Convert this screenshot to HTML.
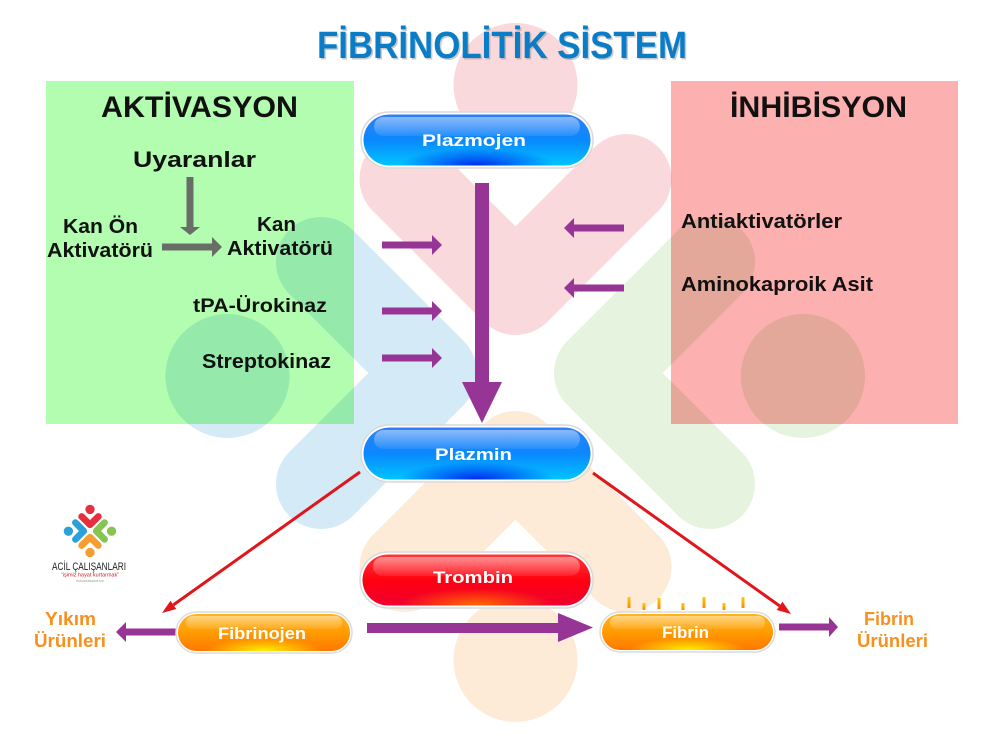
<!DOCTYPE html>
<html>
<head>
<meta charset="utf-8">
<style>
html,body{margin:0;padding:0;background:#fff;}
svg{display:block;}
text{font-family:"Liberation Sans", sans-serif;font-weight:bold;}
</style>
</head>
<body>
<svg width="1000" height="754" viewBox="0 0 1000 754" xmlns="http://www.w3.org/2000/svg">
<defs>
  <linearGradient id="gBlue" x1="0" y1="0" x2="0" y2="1">
    <stop offset="0" stop-color="#2f80f6"/>
    <stop offset="0.5" stop-color="#0a88ff"/>
    <stop offset="1" stop-color="#00c4ff"/>
  </linearGradient>
  <radialGradient id="glowBlue" cx="0.5" cy="1" r="0.34">
    <stop offset="0" stop-color="#0028ee" stop-opacity="1"/>
    <stop offset="1" stop-color="#0028ee" stop-opacity="0"/>
  </radialGradient>
  <linearGradient id="gRed" x1="0" y1="0" x2="0" y2="1">
    <stop offset="0" stop-color="#ff3838"/>
    <stop offset="0.5" stop-color="#ff0010"/>
    <stop offset="1" stop-color="#f00030"/>
  </linearGradient>
  <radialGradient id="glowRed" cx="0.5" cy="1" r="0.34">
    <stop offset="0" stop-color="#ff6a00" stop-opacity="1"/>
    <stop offset="1" stop-color="#ff6a00" stop-opacity="0"/>
  </radialGradient>
  <linearGradient id="gOr" x1="0" y1="0" x2="0" y2="1">
    <stop offset="0" stop-color="#ffb520"/>
    <stop offset="0.5" stop-color="#ff9c00"/>
    <stop offset="1" stop-color="#ff7800"/>
  </linearGradient>
  <radialGradient id="glowOr" cx="0.5" cy="1" r="0.34">
    <stop offset="0" stop-color="#fff200" stop-opacity="1"/>
    <stop offset="1" stop-color="#fff200" stop-opacity="0"/>
  </radialGradient>
  <linearGradient id="hl" x1="0" y1="0" x2="0" y2="1">
    <stop offset="0" stop-color="#ffffff" stop-opacity="0.45"/>
    <stop offset="1" stop-color="#ffffff" stop-opacity="0.08"/>
  </linearGradient>
  <linearGradient id="tick" x1="0" y1="0" x2="0" y2="1">
    <stop offset="0" stop-color="#ffcc00"/>
    <stop offset="1" stop-color="#ff8a00"/>
  </linearGradient>
</defs>

<rect x="0" y="0" width="1000" height="754" fill="#ffffff"/>

<!-- boxes -->
<rect x="46" y="81" width="308" height="343" fill="#b3fdb0"/>
<rect x="671" y="81" width="287" height="343" fill="#fcb0b0"/>

<!-- watermark -->
<g style="mix-blend-mode:multiply">
  <circle cx="515.5" cy="85" r="62" fill="#fad9dc"/>
  <polyline points="404.5,179 515.5,290 626.5,179" fill="none" stroke="#fad9dc" stroke-width="90" stroke-linecap="round" stroke-linejoin="round"/>
  <circle cx="227.5" cy="376" r="62" fill="#d4ebf7"/>
  <polyline points="321,262 432,373 321,484" fill="none" stroke="#d4ebf7" stroke-width="90" stroke-linecap="round" stroke-linejoin="round"/>
  <circle cx="803" cy="376" r="62" fill="#e6f3de"/>
  <polyline points="710,262 599,373 710,484" fill="none" stroke="#e6f3de" stroke-width="90" stroke-linecap="round" stroke-linejoin="round"/>
  <circle cx="515.5" cy="660" r="62" fill="#fdebd8"/>
  <polyline points="404.5,567 515.5,456 626.5,567" fill="none" stroke="#fdebd8" stroke-width="90" stroke-linecap="round" stroke-linejoin="round"/>
</g>

<!-- title -->
<text x="318.5" y="59.5" font-size="38" fill="#8a8a8a" fill-opacity="0.45" textLength="370" lengthAdjust="spacingAndGlyphs">FİBRİNOLİTİK SİSTEM</text>
<text x="317" y="58" font-size="38" fill="#0b7dc7" textLength="370" lengthAdjust="spacingAndGlyphs">FİBRİNOLİTİK SİSTEM</text>

<!-- box headings -->
<text x="101" y="117" font-size="30" fill="#111" textLength="197" lengthAdjust="spacingAndGlyphs">AKTİVASYON</text>
<text x="730" y="117" font-size="30" fill="#111" textLength="177" lengthAdjust="spacingAndGlyphs">İNHİBİSYON</text>

<!-- left box content -->
<text x="133" y="167" font-size="22" fill="#111" textLength="123" lengthAdjust="spacingAndGlyphs">Uyaranlar</text>
<text x="63" y="233" font-size="20" fill="#111" textLength="75" lengthAdjust="spacingAndGlyphs">Kan Ön</text>
<text x="47" y="257" font-size="20" fill="#111" textLength="106" lengthAdjust="spacingAndGlyphs">Aktivatörü</text>
<text x="257" y="231" font-size="20" fill="#111" textLength="39" lengthAdjust="spacingAndGlyphs">Kan</text>
<text x="227" y="255" font-size="20" fill="#111" textLength="106" lengthAdjust="spacingAndGlyphs">Aktivatörü</text>
<text x="193" y="312" font-size="19" fill="#111" textLength="134" lengthAdjust="spacingAndGlyphs">tPA-Ürokinaz</text>
<text x="202" y="368" font-size="20" fill="#111" textLength="129" lengthAdjust="spacingAndGlyphs">Streptokinaz</text>

<!-- grey arrows -->
<g fill="#686d68">
  <rect x="186.5" y="177" width="7" height="51"/>
  <polygon points="180,227 200,227 190,235"/>
  <rect x="162" y="243.5" width="51" height="7"/>
  <polygon points="212,237 212,257 222,247"/>
</g>

<!-- right box content -->
<text x="681" y="228" font-size="20" fill="#111" textLength="161" lengthAdjust="spacingAndGlyphs">Antiaktivatörler</text>
<text x="681" y="291" font-size="20" fill="#111" textLength="192" lengthAdjust="spacingAndGlyphs">Aminokaproik Asit</text>

<!-- purple arrows -->
<g fill="#973597">
  <polygon points="382,241.5 432,241.5 432,235 442,245 432,255 432,248.5 382,248.5"/>
  <polygon points="382,307.5 432,307.5 432,301 442,311 432,321 432,314.5 382,314.5"/>
  <polygon points="382,354.5 432,354.5 432,348 442,358 432,368 432,361.5 382,361.5"/>
  <polygon points="624,224.5 574,224.5 574,218 564,228 574,238 574,231.5 624,231.5"/>
  <polygon points="624,284.5 574,284.5 574,278 564,288 574,298 574,291.5 624,291.5"/>
  <polygon points="475,183 489,183 489,382 502,382 482,423 462,382 475,382"/>
  <polygon points="367,623 558,623 558,613 593,627.5 558,642 558,633 367,633"/>
  <polygon points="176,628.5 126,628.5 126,622 116,632 126,642 126,635.5 176,635.5"/>
  <polygon points="779,623.5 829,623.5 829,617 838,627 829,637 829,630.5 779,630.5"/>
</g>

<!-- red arrows -->
<g>
  <line x1="360" y1="472" x2="173.4" y2="604.9" stroke="#e0161b" stroke-width="3"/>
  <polygon points="162,613 176.3,609 170.5,600.8" fill="#e0161b"/>
  <line x1="593" y1="473" x2="779.6" y2="605.9" stroke="#e0161b" stroke-width="3"/>
  <polygon points="791,614 776.7,610 782.5,601.8" fill="#e0161b"/>
</g>

<!-- Plazmojen -->
<rect x="361" y="112" width="232" height="56" rx="28" fill="#fff" stroke="#d9d9d9" stroke-width="1.5"/>
<rect x="363.5" y="114.5" width="227" height="51" rx="25.5" fill="url(#gBlue)"/>
<rect x="363.5" y="114.5" width="227" height="51" rx="25.5" fill="url(#glowBlue)"/>
<rect x="374" y="117" width="206" height="19" rx="9.5" fill="url(#hl)"/>
<text x="422" y="146" font-size="17" fill="#fff" textLength="104" lengthAdjust="spacingAndGlyphs">Plazmojen</text>

<!-- Plazmin -->
<rect x="361" y="425" width="232" height="57" rx="28.5" fill="#fff" stroke="#d9d9d9" stroke-width="1.5"/>
<rect x="363.5" y="427.5" width="227" height="52" rx="26" fill="url(#gBlue)"/>
<rect x="363.5" y="427.5" width="227" height="52" rx="26" fill="url(#glowBlue)"/>
<rect x="374" y="430" width="206" height="19" rx="9.5" fill="url(#hl)"/>
<text x="435" y="460" font-size="17" fill="#fff" textLength="77" lengthAdjust="spacingAndGlyphs">Plazmin</text>

<!-- Trombin -->
<rect x="360" y="552" width="233" height="56" rx="28" fill="#fff" stroke="#d9d9d9" stroke-width="1.5"/>
<rect x="362.5" y="554.5" width="228" height="51" rx="25.5" fill="url(#gRed)"/>
<rect x="362.5" y="554.5" width="228" height="51" rx="25.5" fill="url(#glowRed)"/>
<rect x="373" y="557" width="207" height="19" rx="9.5" fill="url(#hl)"/>
<text x="433" y="583" font-size="17" fill="#fff" textLength="80" lengthAdjust="spacingAndGlyphs">Trombin</text>

<!-- Fibrinojen -->
<rect x="176" y="612" width="176" height="41" rx="20.5" fill="#fff" stroke="#dcdcdc" stroke-width="1.5"/>
<rect x="178" y="614" width="172" height="37" rx="18.5" fill="url(#gOr)"/>
<rect x="178" y="614" width="172" height="37" rx="18.5" fill="url(#glowOr)"/>
<rect x="186" y="616" width="156" height="13" rx="6.5" fill="url(#hl)"/>
<text x="218" y="639" font-size="17" fill="#fff" textLength="88" lengthAdjust="spacingAndGlyphs">Fibrinojen</text>

<!-- Fibrin -->
<rect x="600" y="612" width="175" height="40" rx="20" fill="#fff" stroke="#dcdcdc" stroke-width="1.5"/>
<rect x="602" y="614" width="171" height="36" rx="18" fill="url(#gOr)"/>
<rect x="602" y="614" width="171" height="36" rx="18" fill="url(#glowOr)"/>
<rect x="610" y="616" width="155" height="13" rx="6.5" fill="url(#hl)"/>
<text x="662" y="638" font-size="17" fill="#fff" textLength="47" lengthAdjust="spacingAndGlyphs">Fibrin</text>

<!-- fibrin ticks -->
<g fill="url(#tick)">
  <rect x="627.5" y="597" width="3" height="11"/>
  <rect x="642.5" y="603" width="3" height="7"/>
  <rect x="657.5" y="598" width="3" height="11"/>
  <rect x="681.5" y="603" width="3" height="7"/>
  <rect x="702.5" y="597" width="3" height="11"/>
  <rect x="722.5" y="603" width="3" height="7"/>
  <rect x="741.5" y="597" width="3" height="11"/>
</g>

<!-- orange labels -->
<g fill="#f7901e">
  <text x="45" y="625" font-size="18" textLength="51" lengthAdjust="spacingAndGlyphs">Yıkım</text>
  <text x="34" y="647" font-size="18" textLength="72" lengthAdjust="spacingAndGlyphs">Ürünleri</text>
  <text x="864" y="625" font-size="18" textLength="50" lengthAdjust="spacingAndGlyphs">Fibrin</text>
  <text x="857" y="647" font-size="18" textLength="71" lengthAdjust="spacingAndGlyphs">Ürünleri</text>
</g>

<!-- small logo -->
<g transform="translate(90,531) scale(0.075) translate(-515.5,-373)" opacity="0.92">
  <circle cx="515.5" cy="85" r="62" fill="#e31e2d"/>
  <polyline points="404.5,179 515.5,290 626.5,179" fill="none" stroke="#e31e2d" stroke-width="90" stroke-linecap="round" stroke-linejoin="round"/>
  <circle cx="227.5" cy="376" r="62" fill="#1b9ad6"/>
  <polyline points="321,262 432,373 321,484" fill="none" stroke="#1b9ad6" stroke-width="90" stroke-linecap="round" stroke-linejoin="round"/>
  <circle cx="803" cy="376" r="62" fill="#7cc242"/>
  <polyline points="710,262 599,373 710,484" fill="none" stroke="#7cc242" stroke-width="90" stroke-linecap="round" stroke-linejoin="round"/>
  <circle cx="515.5" cy="660" r="62" fill="#f7941d"/>
  <polyline points="404.5,567 515.5,456 626.5,567" fill="none" stroke="#f7941d" stroke-width="90" stroke-linecap="round" stroke-linejoin="round"/>
</g>
<text x="52" y="570" font-size="11" fill="#222" style="font-weight:normal" textLength="74" lengthAdjust="spacingAndGlyphs">ACİL ÇALIŞANLARI</text>
<text x="61" y="576.5" font-size="5.5" fill="#d0202a" style="font-weight:normal" textLength="58" lengthAdjust="spacingAndGlyphs">“işimiz hayat kurtarmak”</text>
<text x="76" y="582" font-size="3.5" fill="#999" style="font-weight:normal" textLength="28" lengthAdjust="spacingAndGlyphs">www.acilcalisanlari.com</text>
</svg>
</body>
</html>
